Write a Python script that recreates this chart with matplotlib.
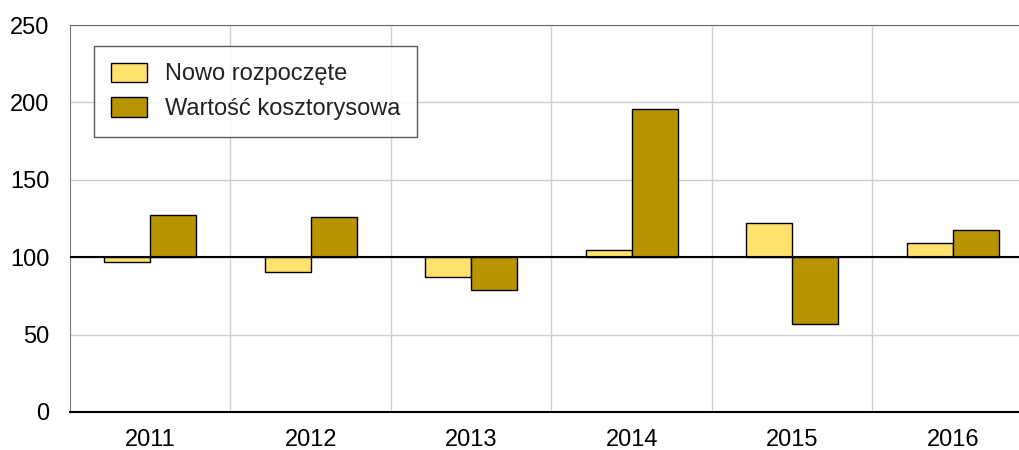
import numpy as np
import matplotlib.pyplot as plt

plt.rcParams['font.family'] = ['Liberation Sans', 'DejaVu Sans']

years = ['2011', '2012', '2013', '2014', '2015', '2016']
nowo = [97, 90.5, 87, 104.5, 122, 109]
wartosc = [127.5, 126, 79, 196, 57, 117.5]
labels = ['Nowo rozpoczęte', 'Wartość kosztorysowa']
base = 100

c_light = '#FFE26E'
c_dark = '#B79400'

fig = plt.figure(figsize=(10.2, 4.5), dpi=100)
ax = fig.add_axes([70/1020, 38/450, 963/1020, 387/450])

x = np.arange(len(years))
w = 0.287
ax.bar(x - w/2, np.array(nowo) - base, w, bottom=base, color=c_light,
       edgecolor='black', linewidth=1, label=labels[0], zorder=3)
ax.bar(x + w/2, np.array(wartosc) - base, w, bottom=base, color=c_dark,
       edgecolor='black', linewidth=1, label=labels[1], zorder=3)
ax.axhline(base, color='black', linewidth=1.5, zorder=4)

ax.set_xlim(-0.5, len(years) - 0.5)
ax.set_ylim(0, 250)
ax.set_yticks(range(0, 251, 50))
ax.set_xticks(x)
ax.set_xticklabels(years)
ax.set_xticks(np.arange(0.5, len(years), 1), minor=True)
ax.grid(True, axis='y', color='#d0d0d0', linewidth=1, zorder=0)
ax.grid(True, axis='x', which='minor', color='#d0d0d0', linewidth=1, zorder=0)
ax.tick_params(axis='both', which='both', length=0, labelsize=17, colors='black')
ax.tick_params(axis='y', pad=15)
ax.tick_params(axis='x', pad=12)

ax.spines['left'].set_color('#777777')
ax.spines['top'].set_color('#666666')
ax.spines['bottom'].set_color('black')
ax.spines['bottom'].set_linewidth(1.5)
ax.spines['right'].set_visible(False)

leg = ax.legend(loc='upper left', bbox_to_anchor=(24/963, 1 - 21/387),
                fontsize=17, frameon=True, fancybox=False, edgecolor='#333333',
                handlelength=1.55, handleheight=0.9, borderpad=0.7,
                labelspacing=0.5, handletextpad=0.75, borderaxespad=0)
leg.get_frame().set_linewidth(1)
for t in leg.get_texts():
    t.set_color('#222222')

fig.savefig('out.png', dpi=100)
